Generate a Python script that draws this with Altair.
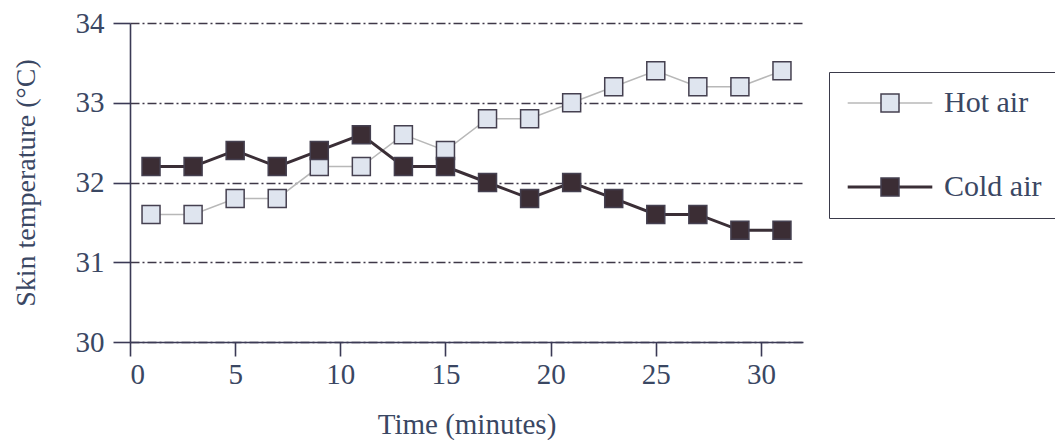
import altair as alt
import pandas as pd

times = [1, 3, 5, 7, 9, 11, 13, 15, 17, 19, 21, 23, 25, 27, 29, 31]
hot_air = [31.6, 31.6, 31.8, 31.8, 32.2, 32.2, 32.6, 32.4, 32.8, 32.8, 33.0, 33.2, 33.4, 33.2, 33.2, 33.4]
cold_air = [32.2, 32.2, 32.4, 32.2, 32.4, 32.6, 32.2, 32.2, 32.0, 31.8, 32.0, 31.8, 31.6, 31.6, 31.4, 31.4]
series_names = ["Hot air", "Cold air"]
series_keys = ["hot", "cold"]
x_ticks = [0, 5, 10, 15, 20, 25, 30]
y_ticks = [30, 31, 32, 33, 34]

rows = []
for name, key, vals in [("Hot air", "hot", hot_air), ("Cold air", "cold", cold_air)]:
    for t, v in zip(times, vals):
        rows.append({"time": t, "temp": v, "series": name, "key": key})
df = pd.DataFrame(rows)

FONT = "Liberation Serif"
TXT = "#3a4763"
AX = "#3b3a55"

x = alt.X("time:Q", scale=alt.Scale(domain=[0, 32], nice=False, zero=False),
          axis=alt.Axis(values=x_ticks, title="Time (minutes)", grid=False,
                        tickSize=14, tickWidth=1.6, tickColor=AX,
                        domainColor=AX, domainWidth=1.6,
                        labelFont=FONT, labelFontSize=29, labelColor=TXT, labelPadding=4,
                        titleFont=FONT, titleFontSize=29, titleColor=TXT,
                        titleFontWeight="normal", titlePadding=21))
y = alt.Y("temp:Q", scale=alt.Scale(domain=[30, 34], nice=False, zero=False),
          axis=alt.Axis(values=y_ticks, title="Skin temperature (°C)", grid=True,
                        gridDash=[9, 3, 2, 3], gridColor="#3f3848", gridWidth=1.4, gridOpacity=1,
                        tickSize=17, tickWidth=1.6, tickColor=AX,
                        domainColor=AX, domainWidth=1.6,
                        labelFont=FONT, labelFontSize=29, labelColor=TXT, labelPadding=9,
                        titleFont=FONT, titleFontSize=28, titleColor=TXT,
                        titleFontWeight="normal", titlePadding=35))

lines = alt.Chart(df).mark_line().encode(
    x=x, y=y,
    stroke=alt.Stroke("series:N", scale=alt.Scale(domain=series_names, range=["#b8b8b8", "#3a2e36"]),
                      legend=alt.Legend(orient="none", legendX=699, legendY=49, title=None,
                                        direction="vertical",
                                        symbolType="M-4.7,0H4.7", symbolSize=324, symbolStrokeWidth=2,
                                        padding=16, rowPadding=54, symbolOffset=30, labelOffset=39,
                                        labelFont=FONT, labelFontSize=30, labelColor=TXT)),
    strokeWidth=alt.StrokeWidth("series:N", scale=alt.Scale(domain=series_names, range=[1.5, 3]), legend=None),
    order="time:Q",
)

points = alt.Chart(df).mark_point(shape="square", filled=True, size=324, stroke="#454050",
                                  strokeWidth=1.5, opacity=1).encode(
    x=x, y=y,
    fill=alt.Fill("key:N", scale=alt.Scale(domain=series_keys, range=["#dfe5ef", "#3b2d34"]),
                  legend=alt.Legend(orient="none", legendX=699, legendY=49,
                                    title="\u2003", titleOrient="right", titlePadding=140,
                                    titleFontSize=30,
                                    direction="vertical",
                                    symbolType="square", symbolSize=324,
                                    symbolStrokeColor="#454050", symbolStrokeWidth=1.5,
                                    padding=16, rowPadding=54, symbolOffset=30, labelOffset=39,
                                    labelExpr="''",
                                    labelFont=FONT, labelFontSize=30,
                                    strokeColor="#3a3a4a")),
)

chart = alt.layer(lines, points).properties(
    width=673, height=319,
    autosize=alt.AutoSizeParams(type="none"),
    padding={"left": 122, "top": 15, "right": 252, "bottom": 98},
    background="white",
).configure_view(stroke=None)

chart.save("out.html", embed_options={"renderer": "svg", "actions": False})
